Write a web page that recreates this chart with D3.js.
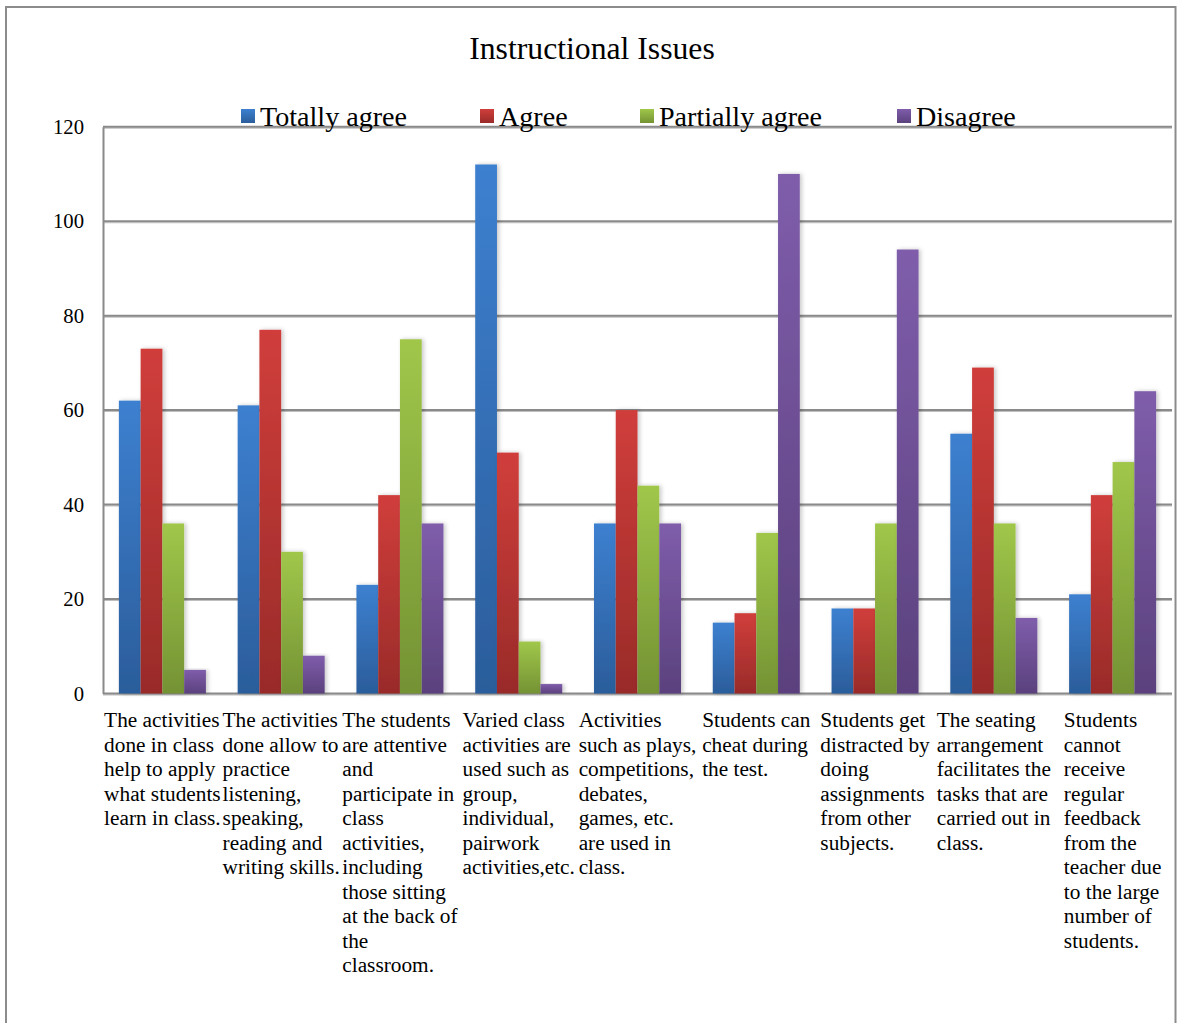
<!DOCTYPE html>
<html>
<head>
<meta charset="utf-8">
<script src="https://cdn.jsdelivr.net/npm/d3@7"></script>
<style>
  html, body { margin: 0; padding: 0; background: #fff; }
  svg { display: block; }
  text { font-family: "Liberation Serif", "Times New Roman", serif; fill: #000; }
</style>
</head>
<body>
<svg id="chart" width="1177" height="1023"></svg>
<script>
// Survey responses per statement
const categories = [
  ["The activities", "done in class", "help to apply", "what students", "learn in class."],
  ["The activities", "done allow to", "practice", "listening,", "speaking,", "reading and", "writing skills."],
  ["The students", "are attentive", "and", "participate in", "class", "activities,", "including", "those sitting", "at the back of", "the", "classroom."],
  ["Varied class", "activities are", "used such as", "group,", "individual,", "pairwork", "activities,etc."],
  ["Activities", "such as plays,", "competitions,", "debates,", "games, etc.", "are used in", "class."],
  ["Students can", "cheat during", "the test."],
  ["Students get", "distracted by", "doing", "assignments", "from other", "subjects."],
  ["The seating", "arrangement", "facilitates the", "tasks that are", "carried out in", "class."],
  ["Students", "cannot", "receive", "regular", "feedback", "from the", "teacher due", "to the large", "number of", "students."]
];
const seriesNames = ["Totally agree", "Agree", "Partially agree", "Disagree"];
const totallyAgree   = [62, 61, 23, 112, 36, 15, 18, 55, 21];
const agree          = [73, 77, 42, 51, 60, 17, 18, 69, 42];
const partiallyAgree = [36, 30, 75, 11, 44, 34, 36, 36, 49];
const disagree       = [5, 8, 36, 2, 36, 110, 94, 16, 64];
const yTicks = [0, 20, 40, 60, 80, 100, 120];

const seriesValues = [totallyAgree, agree, partiallyAgree, disagree];
const palette = [
  { top: "#3d80d0", bottom: "#2b5d9b" },
  { top: "#d03e3b", bottom: "#992b29" },
  { top: "#a0c74a", bottom: "#749234" },
  { top: "#7f5dab", bottom: "#5b417d" }
];

const svg = d3.select("#chart");
const plot = { left: 103, right: 1172, top: 126.7, bottom: 693.5 };

const defs = svg.append("defs");
palette.forEach((c, i) => {
  const g = defs.append("linearGradient")
    .attr("id", "grad" + i).attr("x1", 0).attr("y1", 0).attr("x2", 0).attr("y2", 1);
  g.append("stop").attr("offset", "0%").attr("stop-color", c.top);
  g.append("stop").attr("offset", "100%").attr("stop-color", c.bottom);
});
const shadow = defs.append("filter").attr("id", "shadow")
  .attr("x", "-30%").attr("y", "-5%").attr("width", "160%").attr("height", "110%");
shadow.append("feDropShadow").attr("dx", 2).attr("dy", 0).attr("stdDeviation", 2)
  .attr("flood-color", "#000").attr("flood-opacity", 0.22);
const lineShadow = defs.append("filter").attr("id", "lineShadow")
  .attr("x", "-1%").attr("y", "-200%").attr("width", "102%").attr("height", "500%");
lineShadow.append("feDropShadow").attr("dx", 0).attr("dy", 1).attr("stdDeviation", 0.6)
  .attr("flood-color", "#000").attr("flood-opacity", 0.25);

// Outer chart frame
svg.append("rect")
  .attr("x", 6).attr("y", 7).attr("width", 1169.5).attr("height", 1030)
  .attr("fill", "none").attr("stroke", "#8c8c8c").attr("stroke-width", 2);

const x0 = d3.scaleBand().domain(d3.range(categories.length))
  .range([plot.left, plot.right]).paddingInner(0).paddingOuter(0);
const x1 = d3.scaleBand().domain(d3.range(seriesNames.length))
  .range([0, x0.bandwidth()]).paddingInner(0).paddingOuter(0.73);
const y = d3.scaleLinear().domain([0, 120]).range([plot.bottom, plot.top]);

// Gridlines
const grid = svg.append("g").attr("filter", "url(#lineShadow)");
grid.selectAll("line").data(yTicks).join("line")
  .attr("x1", plot.left).attr("x2", plot.right)
  .attr("y1", d => y(d)).attr("y2", d => y(d))
  .attr("stroke", "#8a8a8a").attr("stroke-width", 2);

// Y axis
const yAxis = svg.append("g").attr("transform", `translate(${plot.left},0)`)
  .call(d3.axisLeft(y).tickValues(yTicks).tickSize(0).tickPadding(19));
yAxis.select(".domain").attr("stroke", "#8a8a8a").attr("stroke-width", 2);
yAxis.selectAll("text").style("font-family", "Liberation Serif, serif")
  .attr("font-size", 20.7).attr("fill", "#000");

// Bars
const groups = svg.append("g").selectAll("g").data(categories).join("g")
  .attr("transform", (d, i) => `translate(${x0(i)},0)`);
groups.selectAll("rect")
  .data((d, i) => seriesValues.map((s, k) => ({ k, v: s[i] })))
  .join("rect")
  .attr("x", d => x1(d.k))
  .attr("width", x1.bandwidth())
  .attr("y", d => y(d.v))
  .attr("height", d => y(0) - y(d.v))
  .attr("fill", d => `url(#grad${d.k})`)
  .attr("filter", "url(#shadow)");

// Category labels: left-aligned lines in a block centred under each group
const labelGroups = svg.append("g").selectAll("g").data(categories).join("g");
labelGroups.each(function (lines, i) {
  const g = d3.select(this);
  const t = g.append("text").attr("font-size", 21.3);
  t.selectAll("tspan").data(lines).join("tspan")
    .attr("x", 0).attr("y", (d, j) => 727 + j * 24.5).text(d => d);
  let maxW = 0;
  t.selectAll("tspan").each(function () { maxW = Math.max(maxW, this.getComputedTextLength()); });
  g.attr("transform", `translate(${x0(i) + x0.bandwidth() / 2 - maxW / 2},0)`);
});

// Title
svg.append("text").attr("x", 592).attr("y", 58.5).attr("text-anchor", "middle")
  .attr("font-size", 31.7).text("Instructional Issues");

// Legend
const legendX = [241, 480, 640, 897];
const legend = svg.append("g").selectAll("g").data(seriesNames).join("g")
  .attr("transform", (d, i) => `translate(${legendX[i]},0)`);
legend.append("rect").attr("x", 0).attr("y", 109).attr("width", 14).attr("height", 14)
  .attr("fill", (d, i) => `url(#grad${i})`);
legend.append("text").attr("x", 19).attr("y", 125.5).attr("font-size", 28.1).text(d => d);
</script>
</body>
</html>
